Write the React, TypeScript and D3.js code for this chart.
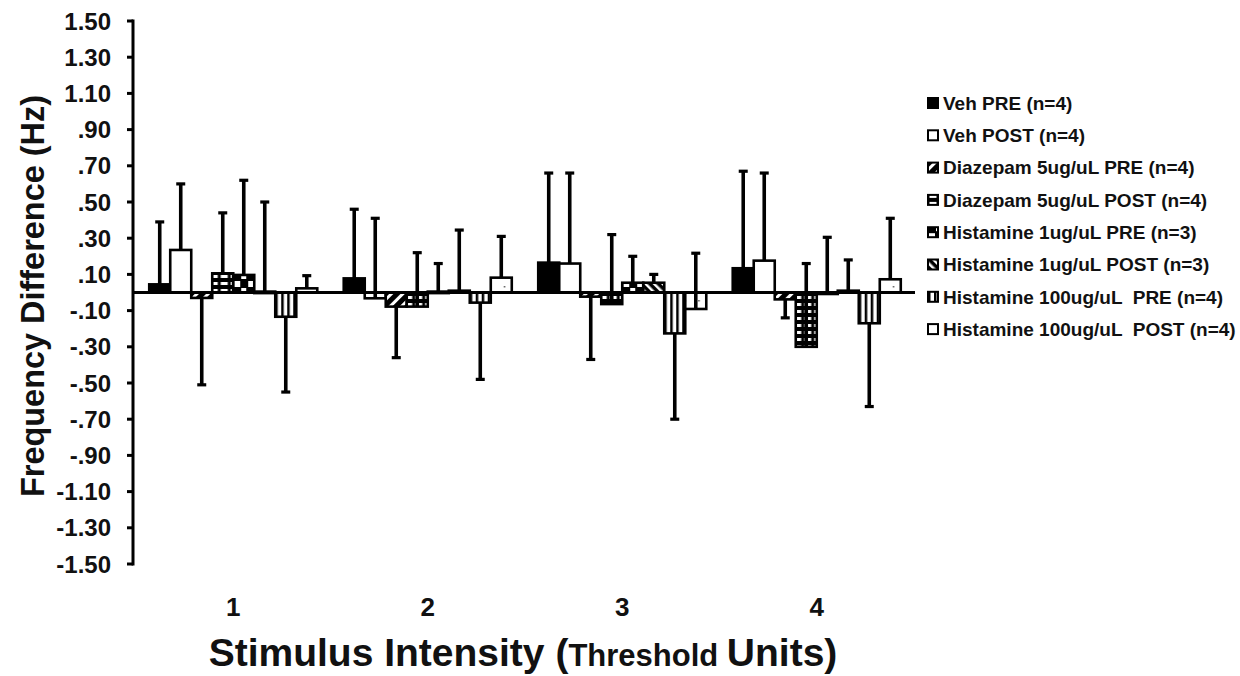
import React from "react";
import * as d3 from "d3";

const categories = ["1", "2", "3", "4"];
const seriesNames = [
  "Veh PRE (n=4)",
  "Veh POST (n=4)",
  "Diazepam 5ug/uL PRE (n=4)",
  "Diazepam 5ug/uL POST (n=4)",
  "Histamine 1ug/uL PRE (n=3)",
  "Histamine 1ug/uL POST (n=3)",
  "Histamine 100ug/uL  PRE (n=4)",
  "Histamine 100ug/uL  POST (n=4)",
];
const vehPre = [0.045, 0.078, 0.165, 0.134];
const vehPost = [0.235, -0.032, 0.16, 0.176];
const diazPre = [-0.03, -0.078, -0.023, -0.038];
const diazPost = [0.106, -0.078, -0.064, -0.3];
const hist1Pre = [0.097, 0.005, 0.054, -0.008];
const hist1Post = [0.005, 0.01, 0.054, 0.01];
const hist100Pre = [-0.134, -0.056, -0.226, -0.17];
const hist100Post = [0.023, 0.082, -0.091, 0.073];

const vehPreErr = [0.345, 0.382, 0.495, 0.536];
const vehPostErr = [0.365, 0.442, 0.5, 0.484];
const diazPreErr = [0.48, 0.282, 0.347, 0.102];
const diazPostErr = [0.334, 0.298, 0.384, 0.46];
const hist1PreErr = [0.523, 0.155, 0.146, 0.313];
const hist1PostErr = [0.495, 0.335, 0.046, 0.17];
const hist100PreErr = [0.416, 0.424, 0.474, 0.46];
const hist100PostErr = [0.07, 0.228, 0.308, 0.337];

// +1: error bar drawn upward, -1: downward
const errDirection = [1, 1, -1, 1, 1, 1, -1, 1];

const yTicks = [1.5, 1.3, 1.1, 0.9, 0.7, 0.5, 0.3, 0.1, -0.1, -0.3, -0.5, -0.7, -0.9, -1.1, -1.3, -1.5];

const values = [vehPre, vehPost, diazPre, diazPost, hist1Pre, hist1Post, hist100Pre, hist100Post];
const errors = [vehPreErr, vehPostErr, diazPreErr, diazPostErr, hist1PreErr, hist1PostErr, hist100PreErr, hist100PostErr];
const fills = ["#000", "#fff", "url(#p3)", "url(#p4)", "url(#p5)", "url(#p6)", "url(#p7)", "url(#p8)"];

function fmt(v: number) {
  const s = Math.abs(v).toFixed(2);
  const t = Math.abs(v) < 1 ? s.slice(1) : s;
  return (v < 0 ? "-" : "") + t;
}

export default function App() {
  const W = 1240, H = 676;
  const axisX = 133;
  const y = d3.scaleLinear().domain([-1.5, 1.5]).range([564, 21]);
  const x0 = d3.scaleBand().domain(categories).range([136, 914]).paddingInner(0.136).paddingOuter(0.068);
  const x1 = d3.scaleBand().domain(d3.range(8).map(String)).range([0, x0.bandwidth()]);
  const font = "'Liberation Sans', Arial, sans-serif";

  return (
    <svg width={W} height={H} style={{ position: "absolute", left: 0, top: 0, background: "#fff" }} fontFamily={font}>
      <defs>
        <pattern id="p3" width="8" height="8" patternUnits="userSpaceOnUse" patternTransform="rotate(45)">
          <rect width="8" height="8" fill="#000" />
          <rect x="0" y="0" width="3" height="8" fill="#fff" />
        </pattern>
        <pattern id="p4" width="10" height="7" patternUnits="userSpaceOnUse">
          <rect width="10" height="7" fill="#000" />
          <rect x="1.5" y="2" width="7" height="3" fill="#fff" />
        </pattern>
        <pattern id="p5" width="14" height="14" patternUnits="userSpaceOnUse">
          <rect width="14" height="14" fill="#000" />
          <rect x="1" y="1" width="6" height="6" fill="#fff" />
          <rect x="8" y="8" width="5" height="5" fill="#fff" />
        </pattern>
        <pattern id="p6" width="6" height="6" patternUnits="userSpaceOnUse" patternTransform="rotate(-45)">
          <rect width="6" height="6" fill="#000" />
          <rect x="0" y="0" width="2.5" height="6" fill="#fff" />
        </pattern>
        <pattern id="p7" width="6" height="6" patternUnits="userSpaceOnUse">
          <rect width="6" height="6" fill="#fff" />
          <rect x="0" y="0" width="2.5" height="6" fill="#000" />
        </pattern>
        <pattern id="p8" width="14" height="14" patternUnits="userSpaceOnUse">
          <rect width="14" height="14" fill="#fff" />
          <rect x="6" y="6" width="1.5" height="1.5" fill="#555" />
        </pattern>
      </defs>

      {/* bars */}
      {categories.map((c, ci) => (
        <g key={c} transform={`translate(${x0(c)},0)`}>
          {values.map((vals, si) => {
            const v = vals[ci];
            const bx = x1(String(si))!;
            const bw = x1.bandwidth();
            const yTop = Math.min(y(v), y(0));
            const h = Math.abs(y(v) - y(0));
            return (
              <rect key={si} x={bx} y={yTop} width={bw} height={Math.max(h, 1.5)} fill={fills[si]} stroke="#000" strokeWidth={2.6} />
            );
          })}
        </g>
      ))}

      {/* zero line */}
      <line x1={axisX} x2={915} y1={y(0)} y2={y(0)} stroke="#000" strokeWidth={3.2} />

      {/* error bars */}
      {categories.map((c, ci) => (
        <g key={"e" + c} transform={`translate(${x0(c)},0)`}>
          {values.map((vals, si) => {
            const v = vals[ci];
            const cx = x1(String(si))! + x1.bandwidth() / 2;
            const tip = v + errDirection[si] * errors[si][ci];
            return (
              <g key={si}>
                <line x1={cx} x2={cx} y1={y(v)} y2={y(tip)} stroke="#000" strokeWidth={3.6} />
                <line x1={cx - 4.5} x2={cx + 4.5} y1={y(tip)} y2={y(tip)} stroke="#000" strokeWidth={3.2} />
              </g>
            );
          })}
        </g>
      ))}

      {/* y axis */}
      <line x1={axisX} x2={axisX} y1={y(1.5) - 1.5} y2={y(-1.5) + 1.5} stroke="#000" strokeWidth={3} />
      {yTicks.map((t) => (
        <g key={t}>
          <line x1={axisX - 6} x2={axisX} y1={y(t)} y2={y(t)} stroke="#000" strokeWidth={3} />
          <text x={111} y={y(t)} dy="0.36em" textAnchor="end" fontSize={24} fontWeight="bold" fill="#111">
            {fmt(t)}
          </text>
        </g>
      ))}

      {/* category labels */}
      {categories.map((c) => (
        <text key={"l" + c} x={x0(c)! + x0.bandwidth() / 2} y={616} textAnchor="middle" fontSize={26} fontWeight="bold" fill="#111">
          {c}
        </text>
      ))}

      {/* axis titles */}
      <text transform="translate(44,296) rotate(-90)" textAnchor="middle" fontSize={34} fontWeight="bold" fill="#111" textLength={402} lengthAdjust="spacingAndGlyphs">
        Frequency Difference (Hz)
      </text>
      <text x={523} y={666} textAnchor="middle" fontWeight="bold" fill="#111" fontSize={39}>
        <tspan>Stimulus Intensity (</tspan>
        <tspan fontSize={31}>Threshold </tspan>
        <tspan>Units)</tspan>
      </text>

      {/* legend */}
      {seriesNames.map((n, i) => (
        <g key={n} transform={`translate(928,${103 + i * 32.3})`}>
          <rect x={0} y={-5} width={10} height={10} fill={fills[i]} stroke="#000" strokeWidth={2} />
          <text x={15} y={0} dy="0.36em" fontSize={19} fontWeight="bold" fill="#111" style={{ whiteSpace: "pre" }}>
            {n}
          </text>
        </g>
      ))}
    </svg>
  );
}
